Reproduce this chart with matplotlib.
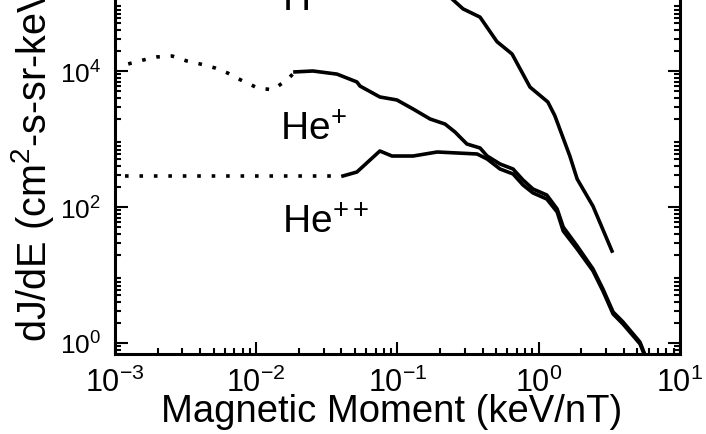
import matplotlib
matplotlib.use("Agg")
import matplotlib.pyplot as plt

plt.rcParams['font.family'] = ['Liberation Sans', 'DejaVu Sans']
plt.rcParams['mathtext.fontset'] = 'custom'
plt.rcParams['mathtext.rm'] = 'Liberation Sans'
plt.rcParams['mathtext.it'] = 'Liberation Sans:italic'

# H+ (solid)
h_x = [0.217, 0.243, 0.291, 0.384, 0.506, 0.647, 0.867, 1.16, 1.30, 1.66, 1.87, 2.42, 3.30]
h_y = [1.5e5, 1.15e5, 8.2e4, 6.2e4, 2.7e4, 1.78e4, 5.8e3, 3.5e3, 2.2e3, 562, 258, 103, 22.5]

# He+ (dotted part, then solid)
he1_dot_x = [1.24e-3, 1.58e-3, 1.98e-3, 2.54e-3, 3.24e-3, 4.0e-3, 5.1e-3, 6.3e-3,
             8.05e-3, 1.03e-2, 1.31e-2, 1.65e-2, 1.88e-2]
he1_dot_y = [1.27e4, 1.45e4, 1.61e4, 1.66e4, 1.40e4, 1.27e4, 1.11e4, 9.3e3,
             7.1e3, 5.6e3, 5.3e3, 7.4e3, 9.7e3]
he1_x = [1.88e-2, 2.52e-2, 3.73e-2, 5.16e-2, 5.43e-2, 7.5e-2, 9.9e-2, 0.129, 0.170,
         0.217, 0.255, 0.310, 0.384, 0.431, 0.532, 0.658, 0.773, 0.910, 1.14,
         1.35, 1.49, 1.87, 2.42, 2.85, 3.36, 3.95, 5.21, 5.65]
he1_y = [9.7e3, 1.0e4, 9.0e3, 6.9e3, 6.0e3, 4.15e3, 3.75e3, 2.76e3, 1.97e3,
         1.66e3, 1.27e3, 844, 738, 562, 429, 362, 250, 184, 150,
         93.5, 50.8, 26.7, 12.3, 6.2, 2.86, 2.04, 1.03, 0.667]

# He++ (dotted part, then solid)
he2_dot_x = [1.18e-3, 3.9e-2]
he2_dot_y = [286, 286]
he2_x = [4.11e-2, 5.16e-2, 7.5e-2, 9.14e-2, 0.129, 0.191, 0.366, 0.431, 0.532,
         0.658, 0.773, 0.910, 1.14, 1.35, 1.49, 1.87, 2.42, 2.85, 3.36, 3.95,
         5.21, 5.65]
he2_y = [286, 327, 666, 562, 562, 644, 602, 508, 362,
         306, 211, 161, 131, 84.4, 44.4, 24.1, 11.5, 5.8, 2.67, 1.90,
         0.97, 0.64]

xticks = [1e-3, 1e-2, 1e-1, 1e0, 1e1]
xtick_labels = [r'$\mathregular{10^{-3}}$', r'$\mathregular{10^{-2}}$',
                r'$\mathregular{10^{-1}}$', r'$\mathregular{10^{0}}$',
                r'$\mathregular{10^{1}}$']
yticks = [1e0, 1e2, 1e4]
ytick_labels = [r'$\mathregular{10^{0}}$', r'$\mathregular{10^{2}}$',
                r'$\mathregular{10^{4}}$']

fig = plt.figure(figsize=(7.06, 4.35), dpi=100)
ax = fig.add_axes([115/706, 80/435, 565/706, 355/435])

lw = 2.6
dots = (0, (1, 3))
ax.plot(h_x, h_y, color='black', lw=lw)
ax.plot(he1_dot_x, he1_dot_y, color='black', lw=lw, ls=dots, dash_capstyle='butt')
ax.plot(he1_x, he1_y, color='black', lw=lw)
ax.plot(he2_dot_x, he2_dot_y, color='black', lw=lw, ls=dots, dash_capstyle='butt')
ax.plot(he2_x, he2_y, color='black', lw=lw)

ax.set_xscale('log')
ax.set_yscale('log')
ax.set_xlim(1e-3, 1e1)
ax.set_ylim(10**(-11/68), 10**(344/68))

ax.set_xticks(xticks)
ax.set_xticklabels(xtick_labels, fontsize=22)
ax.set_yticks(yticks)
ax.set_yticklabels(ytick_labels, fontsize=19)
ax.tick_params(axis='x', which='major', pad=9.5)
ax.tick_params(axis='y', which='major', pad=10)
ax.tick_params(which='both', direction='in', top=False, right=True, width=1.5)
ax.tick_params(which='major', length=9)
ax.tick_params(which='minor', length=4.5)

for side in ['left', 'bottom', 'right']:
    ax.spines[side].set_linewidth(2.2)
ax.spines['top'].set_visible(False)

fs = 28
ax.text(280/706, 1 - 140/435, r'He$\mathregular{^{+}}$', transform=fig.transFigure,
        fontsize=fs, ha='left', va='baseline')
ax.text(282/706, 1 - 233/435, r'He$\mathregular{^{++}}$', transform=fig.transFigure,
        fontsize=fs, ha='left', va='baseline')
ax.text(282/706, 1 - 11/435, r'H$\mathregular{^{+}}$', transform=fig.transFigure,
        fontsize=fs, ha='left', va='baseline')
fig.text(527/706, 1 + 1/435, 'E=0.2', fontsize=fs, ha='left', va='baseline')

fig.text(392/706, 13/435, 'Magnetic Moment (keV/nT)', fontsize=27.5,
         ha='center', va='baseline')
fig.text(33/706, 93/435, r'dJ/dE (cm$\mathregular{^{2}}$-s-sr-keV)', fontsize=28.5,
         rotation=90, ha='center', va='bottom')

fig.savefig('out.png', dpi=100)
